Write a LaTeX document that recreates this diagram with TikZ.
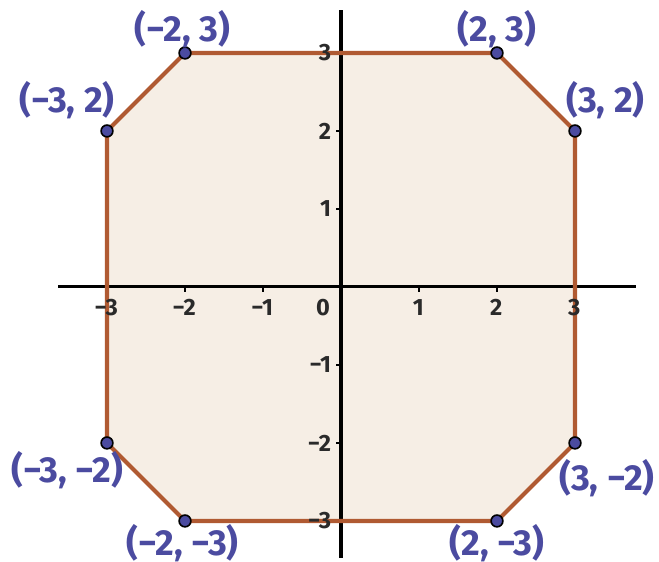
\documentclass[tikz,border=0pt]{standalone}
\usepackage{fontspec}
\setmainfont{Fira Sans}
\definecolor{polyfill}{HTML}{F6EEE5}
\definecolor{polyedge}{HTML}{B05A32}
\definecolor{ptblue}{HTML}{4B4BA0}
\definecolor{tickgray}{HTML}{2A2A2A}
\tikzset{
  axisline/.style={line width=1.1pt, black},
  vertex/.style={circle, fill=ptblue, draw=black, line width=0.6pt, inner sep=0pt, minimum size=4.3pt},
  ptlabel/.style={text=ptblue, font=\fontsize{13.2}{15}\selectfont\bfseries, inner sep=0pt},
  ticklab/.style={text=tickgray, font=\fontsize{8.6}{10}\selectfont\bfseries, inner sep=0pt},
}
\begin{document}
\begin{tikzpicture}[x=1cm,y=1cm]
\useasboundingbox (-4.372,-3.526) rectangle (4.077,3.679);
% polygon
\coordinate (p1) at (-2,3);
\coordinate (p2) at (2,3);
\coordinate (p3) at (3,2);
\coordinate (p4) at (3,-2);
\coordinate (p5) at (2,-3);
\coordinate (p6) at (-2,-3);
\coordinate (p7) at (-3,-2);
\coordinate (p8) at (-3,2);
\fill[polyfill] (p1)--(p2)--(p3)--(p4)--(p5)--(p6)--(p7)--(p8)--cycle;
% axes
\coordinate (xl) at (-3.628,0);
\coordinate (xr) at (3.782,0);
\coordinate (yb) at (0,-3.474);
\coordinate (yt) at (0,3.551);
\draw[axisline] (xl) -- (xr);
\draw[axisline] (yb) -- (yt);
\foreach \i in {-3,-2,-1,1,2,3}{
  \draw[axisline, line width=0.9pt] (\i,0) -- (\i,-0.06);
  \draw[axisline, line width=0.9pt] (0,\i) -- (-0.06,\i);
}
% edges
\draw[polyedge, line width=1.5pt, line join=round] (p1)--(p2)--(p3)--(p4)--(p5)--(p6)--(p7)--(p8)--cycle;
% tick labels
\foreach \i/\t in {-3/−3,-2/−2,-1/−1,1/1,2/2,3/3}{
  \node[ticklab] (tx\i) at (\i-0.01,-0.265) {\t};
}
\node[ticklab] (tx0) at (-0.23,-0.265) {0};
\foreach \i/\t in {-3/−3,-2/−2,-1/−1,1/1,2/2,3/3}{
  \node[ticklab, anchor=east] (ty\i) at (-0.12,\i) {\t};
}
% vertices
\foreach \p in {p1,p2,p3,p4,p5,p6,p7,p8}{
  \node[vertex] (v\p) at (\p) {};
}
% labels
\node[ptlabel] (l1) at (-2.03,3.30) {(−2, 3)};
\node[ptlabel] (l2) at (2.0,3.30) {(2, 3)};
\node[ptlabel] (l3) at (3.39,2.40) {(3, 2)};
\node[ptlabel] (l4) at (3.41,-2.45) {(3, −2)};
\node[ptlabel] (l5) at (2.0,-3.28) {(2, −3)};
\node[ptlabel] (l6) at (-2.03,-3.28) {(−2, −3)};
\node[ptlabel] (l7) at (-3.51,-2.35) {(−3, −2)};
\node[ptlabel] (l8) at (-3.51,2.40) {(−3, 2)};
\end{tikzpicture}
\end{document}
